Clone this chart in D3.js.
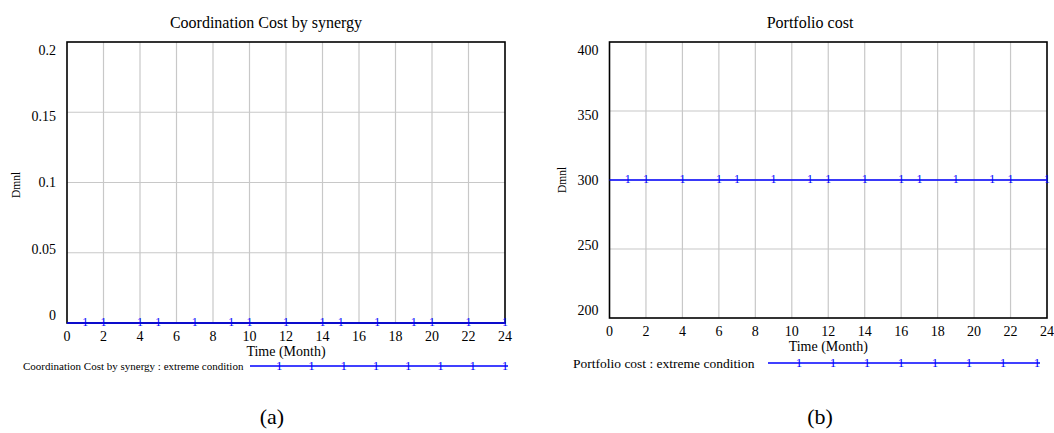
<!DOCTYPE html>
<html>
<head>
<meta charset="utf-8">
<script src="https://cdn.jsdelivr.net/npm/d3@7"></script>
<style>
  body { margin: 0; background: #fff; }
  svg { display: block; }
</style>
</head>
<body>
<svg id="chart" width="1054" height="433" font-family="'Liberation Serif', 'Times New Roman', Times, serif"></svg>
<script>
// values (both runs are flat over the 24 months)
var months = d3.range(0, 25);
var coordCost = [0, 0, 0, 0, 0, 0, 0, 0, 0, 0, 0, 0, 0, 0, 0, 0, 0, 0, 0, 0, 0, 0, 0, 0, 0];
var portfolioCost = [300, 300, 300, 300, 300, 300, 300, 300, 300, 300, 300, 300, 300,
                     300, 300, 300, 300, 300, 300, 300, 300, 300, 300, 300, 300];
// months where the "1" series marker sits on the line
var coordMarks = [1, 2, 4, 5, 7, 9, 10, 12, 14, 15, 17, 19, 20, 22, 24];
var portfolioMarks = [1, 2, 4, 6, 7, 9, 11, 12, 14, 16, 17, 19, 21, 22, 24];
var xTicks = [0, 2, 4, 6, 8, 10, 12, 14, 16, 18, 20, 22, 24];
var coordTicks = [0, 0.05, 0.1, 0.15, 0.2];
var portfolioTicks = [200, 250, 300, 350, 400];

var svg = d3.select("#chart");
var blue = "#0000ff";
var serif = "'Liberation Serif', 'Times New Roman', Times, serif";

function panel(opt) {
    var x = d3.scaleLinear().domain([0, 24]).range([opt.left, opt.right]);
    var y = d3.scaleLinear().domain(opt.yDomain).range([opt.bottom, opt.top]);
    // Vensim squeezes the value labels a little toward the middle
    var yl = d3.scaleLinear().domain(opt.yDomain).range([opt.bottom - 8, opt.top + 8]);
    var g = svg.append("g").attr("font-family", serif);

    // grid
    g.append("g").selectAll("line")
        .data(xTicks.slice(1, -1))
        .enter().append("line")
        .attr("x1", function(d) { return x(d); })
        .attr("x2", function(d) { return x(d); })
        .attr("y1", opt.top).attr("y2", opt.bottom)
        .attr("stroke", "#c8c8c8").attr("stroke-width", 1.2);
    g.append("g").selectAll("line")
        .data(opt.yTicks.slice(1, -1))
        .enter().append("line")
        .attr("x1", opt.left).attr("x2", opt.right)
        .attr("y1", function(d) { return y(d); })
        .attr("y2", function(d) { return y(d); })
        .attr("stroke", "#c8c8c8").attr("stroke-width", 1.2);

    // frame
    g.append("rect")
        .attr("x", opt.left).attr("y", opt.top)
        .attr("width", opt.right - opt.left).attr("height", opt.bottom - opt.top)
        .attr("fill", "none").attr("stroke", "#000").attr("stroke-width", 1.6);

    // y labels
    g.append("g").selectAll("text")
        .data(opt.yTicks)
        .enter().append("text")
        .attr("x", opt.left - 11)
        .attr("y", function(d) { return yl(d); })
        .attr("dy", "0.35em")
        .attr("text-anchor", "end")
        .attr("font-size", 14)
        .text(function(d) { return d; });

    // x labels
    g.append("g").selectAll("text")
        .data(xTicks)
        .enter().append("text")
        .attr("x", function(d) { return x(d); })
        .attr("y", opt.bottom + 13)
        .attr("dy", "0.35em")
        .attr("text-anchor", "middle")
        .attr("font-size", 14)
        .text(function(d) { return d; });

    g.append("text")
        .attr("x", (opt.left + opt.right) / 2)
        .attr("y", opt.bottom + 28)
        .attr("dy", "0.35em")
        .attr("text-anchor", "middle")
        .attr("font-size", 14)
        .text("Time (Month)");

    g.append("text")
        .attr("transform", "translate(" + opt.yTitleX + "," + opt.yTitleY + ") rotate(-90)")
        .attr("text-anchor", "middle")
        .attr("dy", "0.35em")
        .attr("font-size", 11.5)
        .text("Dmnl");

    g.append("text")
        .attr("x", opt.titleX)
        .attr("y", 22)
        .attr("dy", "0.35em")
        .attr("text-anchor", "middle")
        .attr("font-size", 16)
        .text(opt.title);

    // series
    var line = d3.line()
        .x(function(d, i) { return x(months[i]); })
        .y(function(d) { return y(d); });
    g.append("path")
        .datum(opt.values)
        .attr("d", line)
        .attr("fill", "none")
        .attr("stroke", blue)
        .attr("stroke-width", 1.6);
    g.append("g").selectAll("text")
        .data(opt.marks)
        .enter().append("text")
        .attr("x", function(d) { return x(d); })
        .attr("y", function(d) { return y(opt.values[months.indexOf(d)]); })
        .attr("dy", "0.28em")
        .attr("text-anchor", "middle")
        .attr("font-size", 12)
        .attr("fill", blue)
        .text("1");

    // legend
    var lx = d3.scaleLinear().domain([0, 8]).range([opt.legX0, opt.legX1]);
    g.append("text")
        .attr("x", opt.legTextX)
        .attr("y", opt.legY)
        .attr("dy", "0.35em")
        .attr("font-size", opt.legFont)
        .text(opt.legend);
    g.append("line")
        .attr("x1", opt.legX0).attr("x2", opt.legX1)
        .attr("y1", opt.legY).attr("y2", opt.legY)
        .attr("stroke", blue).attr("stroke-width", 1.3);
    g.append("g").selectAll("text")
        .data(d3.range(1, 9))
        .enter().append("text")
        .attr("x", function(d) { return lx(d) - 3; })
        .attr("y", opt.legY)
        .attr("dy", "0.3em")
        .attr("text-anchor", "middle")
        .attr("font-size", 13)
        .attr("fill", blue)
        .text("1");

    g.append("text")
        .attr("x", opt.capX)
        .attr("y", 416)
        .attr("dy", "0.35em")
        .attr("text-anchor", "middle")
        .attr("font-size", 22)
        .text(opt.caption);
}

panel({
    title: "Coordination Cost by synergy", titleX: 266,
    left: 67, right: 505, top: 42, bottom: 323,
    yDomain: [0, 0.2], yTicks: coordTicks,
    values: coordCost, marks: coordMarks,
    yTitleX: 16, yTitleY: 185,
    legend: "Coordination Cost by synergy : extreme condition",
    legTextX: 23, legY: 366, legFont: 11, legX0: 250, legX1: 508,
    capX: 272, caption: "(a)"
});

panel({
    title: "Portfolio cost", titleX: 810,
    left: 609.5, right: 1047, top: 42, bottom: 318,
    yDomain: [200, 400], yTicks: portfolioTicks,
    values: portfolioCost, marks: portfolioMarks,
    yTitleX: 562, yTitleY: 180,
    legend: "Portfolio cost : extreme condition",
    legTextX: 573, legY: 363, legFont: 13.5, legX0: 768, legX1: 1040,
    capX: 820, caption: "(b)"
});
</script>
</body>
</html>
